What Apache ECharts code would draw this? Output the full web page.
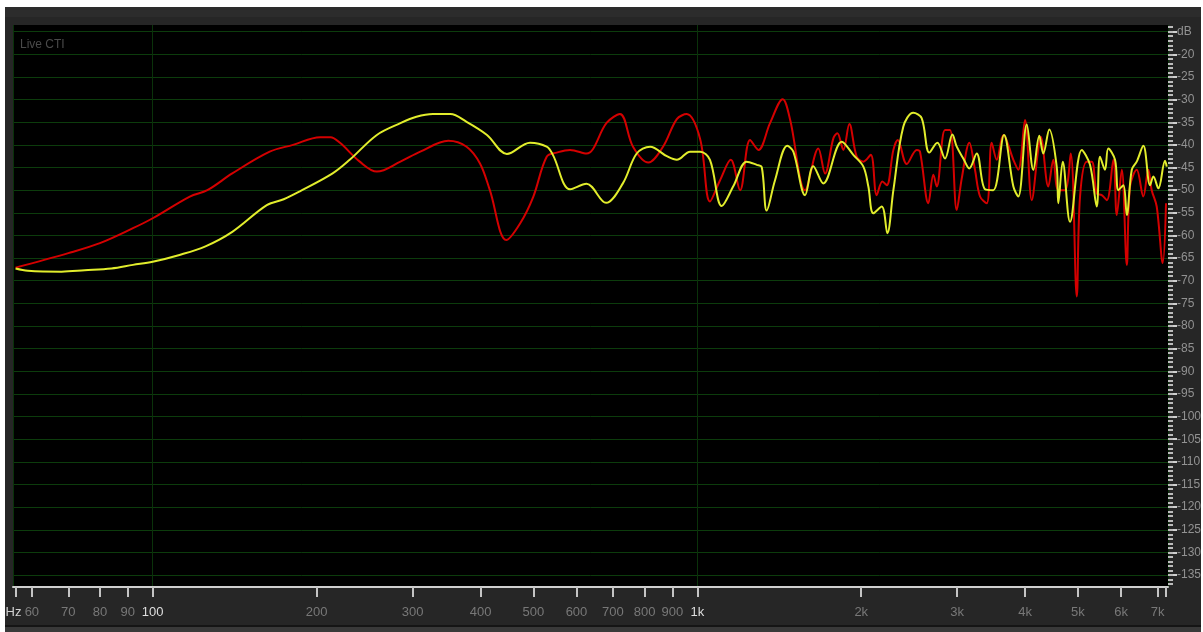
<!DOCTYPE html>
<html><head><meta charset="utf-8">
<script src="https://cdn.jsdelivr.net/npm/echarts@6/dist/echarts.min.js"></script>
<style>
html,body{margin:0;padding:0;background:#fff;width:1203px;height:632px;overflow:hidden;}
#frame{position:absolute;left:5px;top:7px;width:1196px;height:625px;background:#262626;}
#frame .top{position:absolute;left:0;right:0;top:0;height:10px;background:#2c2c2c}
#frame .bot{position:absolute;left:0;right:0;top:618px;height:2px;background:#151515}
#frame .bot2{position:absolute;left:0;right:0;top:620px;bottom:0;background:#393939}
#chart{position:absolute;left:0;top:0;width:1203px;height:632px;}
</style></head><body>
<div id="frame"><div class="top"></div><div class="bot"></div><div class="bot2"></div></div>
<div id="chart"></div>
<script>
// ---- data (frequency in Hz, level in dB) ----
const redFreq = [56,70,80,92,100,117,126,140,164,181,203,212,221,240,258,285,310,349,377,399,416,446,473,500,529,552,584,626,682,721,762,813,865,917,956,1012,1055,1101,1152,1198,1250,1295,1360,1435,1481,1577,1668,1716,1778,1808,1854,1902,1962,2018,2082,2135,2187,2228,2291,2334,2424,2529,2564,2656,2713,2752,2850,2911,2995,3059,3159,3235,3305,3400,3472,3547,3647,3805,3885,3997,4112,4228,4271,4410,4505,4601,4733,4849,4974,5044,5189,5300,5413,5529,5648,5807,5891,6017,6146,6231,6410,6591,6732,6829,6975,7154,7255];
const redDb = [-67.1,-63.9,-61.7,-58.4,-56.2,-51.4,-50.0,-46.3,-41.5,-40.0,-38.3,-38.3,-39.6,-43.7,-45.9,-43.7,-41.5,-39.1,-40.4,-44.1,-50.0,-61.0,-57.3,-51.4,-42.6,-41.7,-41.1,-41.9,-35.1,-33.2,-40.4,-43.9,-40.4,-34.3,-33.2,-38.7,-52.5,-47.8,-43.3,-50.0,-38.9,-41.1,-35.2,-29.9,-34.5,-50.0,-40.8,-46.3,-38.5,-37.4,-41.1,-35.4,-42.6,-43.7,-42.2,-51.1,-48.1,-48.9,-41.1,-38.9,-44.2,-41.1,-41.5,-52.9,-46.6,-49.2,-36.7,-36.7,-54.4,-47.4,-39.5,-45.5,-51.4,-52.9,-39.5,-43.3,-37.8,-43.3,-45.5,-34.5,-52.2,-40.8,-38.2,-49.2,-43.3,-50.0,-50.0,-41.9,-73.5,-51.4,-43.7,-43.7,-50.7,-51.1,-52.2,-43.3,-55.5,-45.5,-66.5,-49.2,-45.5,-51.4,-45.5,-50.0,-53.6,-66.1,-52.9];

const yellowFreq = [56,59,68,75,84,92,100,112,125,140,162,174,186,214,230,258,285,305,327,352,377,411,447,493,529,543,584,626,680,730,774,819,879,917,970,1012,1055,1109,1165,1232,1286,1313,1341,1389,1463,1501,1577,1633,1703,1842,1934,2018,2061,2105,2181,2233,2291,2389,2492,2582,2667,2759,2850,2940,2995,3079,3158,3258,3375,3495,3658,3805,3885,4026,4140,4246,4318,4429,4570,4601,4688,4835,5080,5261,5413,5488,5605,5684,5848,5931,6058,6146,6277,6410,6591,6781,6877,7024,7225,7277];
const yellowDb = [-67.3,-67.8,-68.0,-67.7,-67.3,-66.5,-65.8,-64.3,-62.4,-59.2,-53.3,-52.0,-50.3,-46.3,-43.3,-37.8,-35.2,-33.8,-33.2,-33.2,-34.9,-37.8,-42.0,-39.5,-40.4,-42.2,-49.8,-48.6,-52.8,-48.5,-41.9,-40.4,-42.5,-43.3,-41.5,-41.5,-43.3,-53.5,-49.1,-43.7,-44.4,-44.9,-54.5,-47.8,-40.2,-41.5,-51.1,-44.7,-48.5,-39.3,-42.2,-44.8,-49.2,-55.1,-53.6,-59.5,-50.0,-36.0,-32.9,-34.1,-41.7,-39.5,-43.0,-37.7,-40.4,-43.0,-45.2,-41.9,-49.8,-50.0,-37.8,-49.2,-51.4,-35.5,-45.5,-38.0,-41.9,-36.6,-44.8,-52.9,-43.7,-57.0,-41.1,-44.4,-53.6,-42.6,-45.5,-40.8,-43.3,-50.0,-48.9,-55.5,-45.5,-43.7,-40.2,-48.9,-47.0,-49.6,-43.5,-44.8];

// ---- axis ticks / labels ----
const hzTickFreq  = 56.1;
const hzLabel     = 'Hz';
const xTickFreqs  = [60, 70, 80, 90, 100, 200, 300, 400, 500, 600, 700, 800, 900, 1000, 2000, 3000, 4000, 5000, 6000, 7000, 7245];
const xTickLabels = ['60','70','80','90','100','200','300','400','500','600','700','800','900','1k','2k','3k','4k','5k','6k','7k',''];
const xBright     = ['100','1k'];
const xGridFreqs  = [55.4, 100, 1000, 7316];
const yTickVals   = [-15,-20,-25,-30,-35,-40,-45,-50,-55,-60,-65,-70,-75,-80,-85,-90,-95,-100,-105,-110,-115,-120,-125,-130,-135];
const yTopLabel   = 'dB';

const xMinHz = 55.4, xMaxHz = 7316;
const yMin = -137.64, yMax = -13.52;

const LOG = Math.log10;
const yMinor = [];
for (let v = -137; v <= -14; v++) yMinor.push(v);

const font = '"Liberation Sans Narrow", "Liberation Sans", Arial, sans-serif';
const xTickLog = xTickFreqs.map(LOG);

function xLabel(v) {
  let idx = -1, best = 1e9;
  xTickLog.forEach((t, i) => { const d = Math.abs(t - v); if (d < best) { best = d; idx = i; } });
  const s = xTickLabels[idx];
  if (s === '') return '';
  return xBright.indexOf(s) >= 0 ? '{b|' + s + '}' : s;
}

const xBase = {type: 'value', min: LOG(xMinHz), max: LOG(xMaxHz), position: 'bottom'};

const chart = echarts.init(document.getElementById('chart'), null, {renderer: 'canvas'});
chart.setOption({
  animation: false,
  backgroundColor: 'transparent',
  title: {
    text: 'Live CTI', left: 15, top: 34,
    textStyle: {color: '#4a4a4a', fontSize: 12, fontWeight: 'normal', fontFamily: font}
  },
  grid: {left: 13, right: 35, top: 25, bottom: 45, show: true, backgroundColor: '#000', borderWidth: 0,
         containLabel: false, outerBoundsMode: 'none'},
  xAxis: [
    Object.assign({}, xBase, {
      axisLine: {show: true, onZero: false, lineStyle: {color: '#cfcfcf', width: 2}},
      axisTick: {show: true, length: 10, customValues: xTickLog, lineStyle: {color: '#c4c4c4', width: 2}},
      axisLabel: {
        show: true, customValues: xTickLog, margin: 19, formatter: xLabel,
        showMinLabel: true, showMaxLabel: true, hideOverlap: false,
        color: '#787878', fontSize: 13, fontFamily: font,
        rich: {b: {color: '#dedede', fontSize: 13, fontFamily: font}}
      },
      splitLine: {show: false}
    }),
    Object.assign({}, xBase, {
      axisLine: {show: false},
      axisTick: {show: false, customValues: xGridFreqs.map(LOG)},
      axisLabel: {show: false},
      splitLine: {show: true, lineStyle: {color: '#0a320a', width: 1}}
    }),
    Object.assign({}, xBase, {
      axisLine: {show: false},
      axisTick: {show: true, length: 10, customValues: [LOG(hzTickFreq)], lineStyle: {color: '#c4c4c4', width: 2}},
      axisLabel: {
        show: true, customValues: [LOG(hzTickFreq)], margin: 19, showMinLabel: true,
        formatter: () => '{h|' + hzLabel + '}',
        rich: {h: {color: '#d2d2d2', fontSize: 13, fontFamily: font, padding: [0, 5, 0, 0]}}
      },
      splitLine: {show: false}
    })
  ],
  yAxis: [
    {
      type: 'value', position: 'right', min: yMin, max: yMax,
      axisLine: {show: false},
      axisTick: {show: true, length: 9, customValues: yTickVals, lineStyle: {color: '#cfcfcf', width: 2}},
      axisLabel: {
        show: true, customValues: yTickVals, margin: 9,
        showMinLabel: true, showMaxLabel: true,
        formatter: v => (Math.abs(v - yTickVals[0]) < 1e-6 ? yTopLabel : String(v)),
        color: '#929292', fontSize: 12, fontFamily: font
      },
      splitLine: {show: true, lineStyle: {color: '#0c3c0c', width: 1}}
    },
    {
      type: 'value', position: 'right', min: yMin, max: yMax,
      axisLine: {show: false},
      axisTick: {show: true, length: 5, customValues: yMinor, lineStyle: {color: '#bcbcbc', width: 2}},
      axisLabel: {show: false},
      splitLine: {show: false}
    }
  ],
  series: [
    {
      type: 'line', name: 'red', xAxisIndex: 0, yAxisIndex: 0,
      data: redFreq.map((f, i) => [LOG(f), redDb[i]]),
      showSymbol: false, symbol: 'none', smooth: 0.35, z: 2,
      lineStyle: {color: '#d40000', width: 2}
    },
    {
      type: 'line', name: 'yellow', xAxisIndex: 0, yAxisIndex: 0,
      data: yellowFreq.map((f, i) => [LOG(f), yellowDb[i]]),
      showSymbol: false, symbol: 'none', smooth: 0.35, z: 3,
      lineStyle: {color: '#e2ed2c', width: 2}
    }
  ]
});
</script>
</body></html>
